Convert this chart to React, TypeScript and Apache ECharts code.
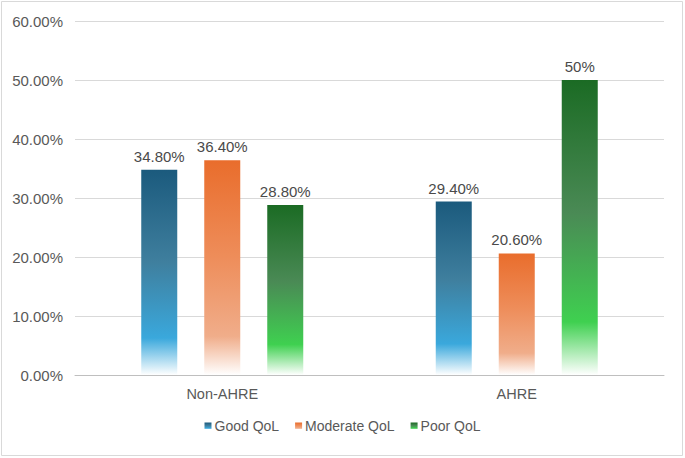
import React, { useEffect, useRef } from "react";
import * as echarts from "echarts";

const categories = ["Non-AHRE", "AHRE"];
const goodQoL = [34.8, 29.4];
const moderateQoL = [36.4, 20.6];
const poorQoL = [28.8, 50];
const goodLabels = ["34.80%", "29.40%"];
const moderateLabels = ["36.40%", "20.60%"];
const poorLabels = ["28.80%", "50%"];
const seriesNames = ["Good QoL", "Moderate QoL", "Poor QoL"];

function grad(top: string, mid: string, bright: string) {
  return new echarts.graphic.LinearGradient(0, 0, 0, 1, [
    { offset: 0, color: top },
    { offset: 0.45, color: mid },
    { offset: 0.82, color: bright },
    { offset: 1, color: "#ffffff" },
  ]);
}

export default function App() {
  const ref = useRef<HTMLDivElement>(null);
  useEffect(() => {
    if (!ref.current) return;
    const chart = echarts.init(ref.current, undefined, { renderer: "svg" });
    const font = "Liberation Sans, Arial, sans-serif";
    const mk = (name: string, data: number[], labels: string[], color: any) => ({
      name,
      type: "bar",
      data,
      barWidth: 36,
      barGap: "75%",
      itemStyle: { color },
      label: {
        show: true,
        position: "top",
        distance: 6,
        color: "#4a4a4a",
        fontSize: 15,
        fontFamily: font,
        formatter: (p: any) => labels[p.dataIndex],
      },
    });
    chart.setOption({
      animation: false,
      backgroundColor: "#ffffff",
      graphic: [
        {
          type: "rect",
          shape: { x: 1.5, y: 1.5, width: 681, height: 454 },
          style: { fill: "none", stroke: "#d9d9d9", lineWidth: 1 },
          silent: true,
        },
      ],
      color: ["#2a6f97", "#ec7a3e", "#2a8a36"],
      grid: { left: 75, right: 21, top: 21, bottom: 83, containLabel: false },
      legend: {
        data: seriesNames,
        bottom: 20,
        left: "center",
        itemWidth: 7,
        itemHeight: 7,
        itemGap: 16,
        icon: "rect",
        textStyle: { color: "#595959", fontSize: 14, fontFamily: font, padding: [0, 0, 0, -2] },
      },
      xAxis: {
        type: "category",
        data: categories,
        axisLine: { lineStyle: { color: "#bfbfbf" } },
        axisTick: { show: false },
        axisLabel: { color: "#595959", fontSize: 14.5, fontFamily: font, margin: 11 },
      },
      yAxis: {
        type: "value",
        min: 0,
        max: 60,
        interval: 10,
        axisLine: { show: false },
        axisTick: { show: false },
        splitLine: { lineStyle: { color: "#d9d9d9" } },
        axisLabel: {
          color: "#595959",
          fontSize: 15,
          fontFamily: font,
          margin: 12,
          formatter: (v: number) => v.toFixed(2) + "%",
        },
      },
      series: [
        mk(seriesNames[0], goodQoL, goodLabels, grad("#1b5a7d", "#3f7f9e", "#3aa8dc")),
        mk(seriesNames[1], moderateQoL, moderateLabels, grad("#e96d2c", "#ee8d5a", "#f0ad8a")),
        mk(seriesNames[2], poorQoL, poorLabels, grad("#1b6b24", "#4a8a55", "#3fd050")),
      ],
    });
    return () => chart.dispose();
  }, []);
  return (
    <div
      ref={ref}
      style={{ position: "fixed", left: 0, top: 0, width: 685, height: 458 }}
    />
  );
}
